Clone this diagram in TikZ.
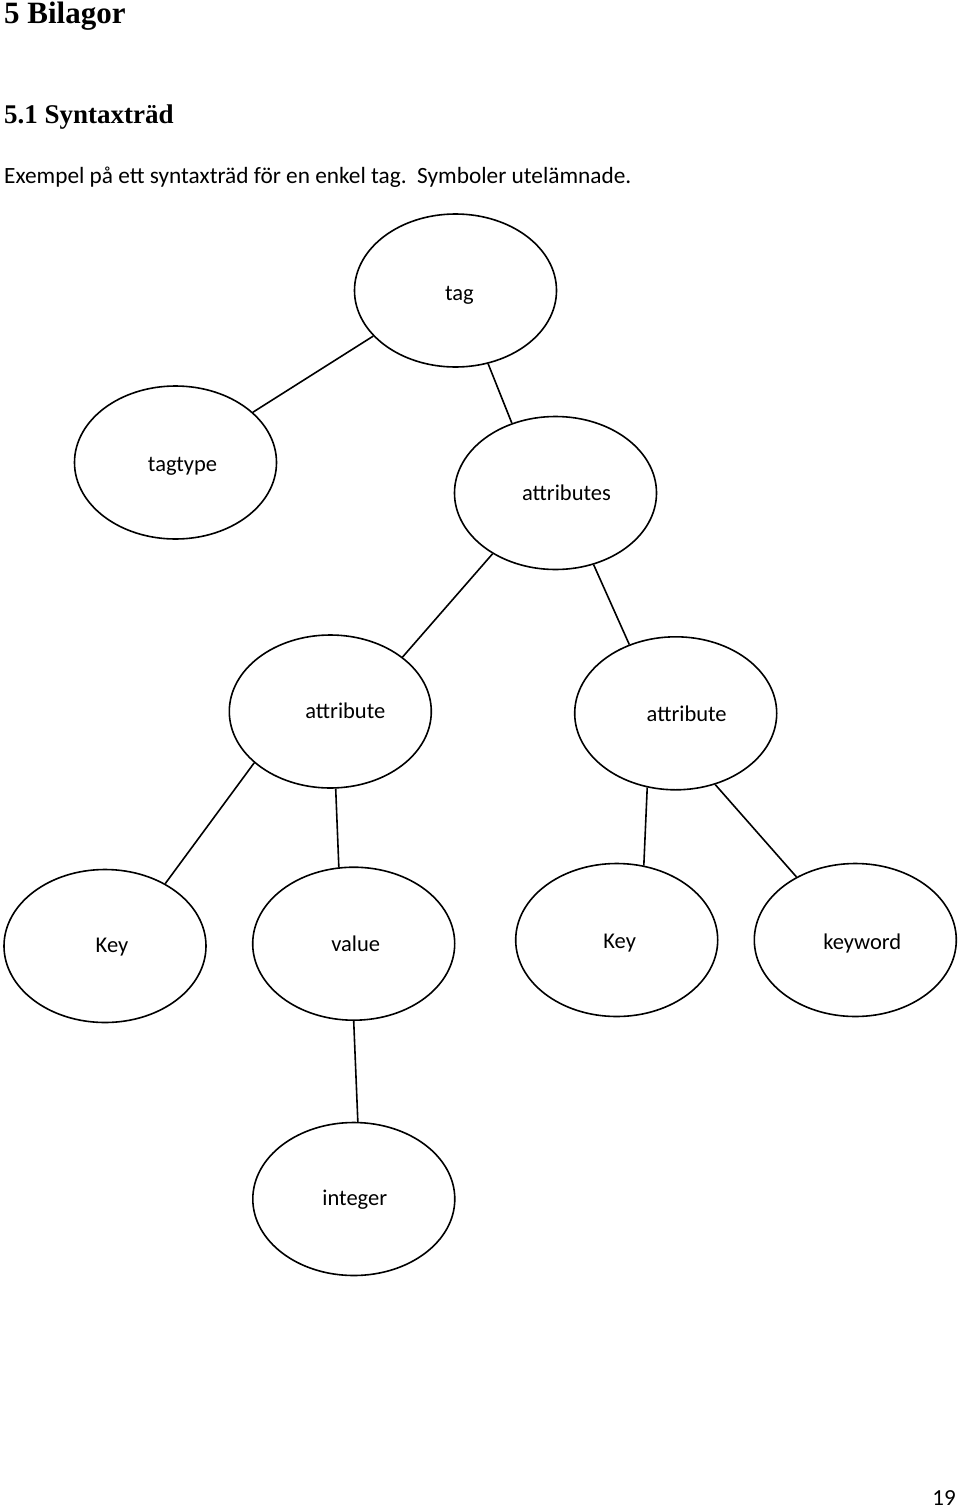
\documentclass[tikz,border=0pt]{standalone}
\usepackage{fontspec}
\setmainfont{Carlito}
\newfontfamily\headfont{Liberation Serif}
\usetikzlibrary{shapes.geometric}
\tikzset{oval/.style={draw=black,ellipse,line width=1.6pt,minimum width=202pt,minimum height=153pt,inner sep=0pt},word/.style={font=\fontsize{22.5}{27}\selectfont,inner sep=0pt,anchor=base},link/.style={line width=1.6pt},txt/.style={inner sep=0pt,anchor=base west}}

\begin{document}
\begin{tikzpicture}[x=1pt,y=-1pt]
\useasboundingbox (0,0) rectangle (960,1509);
\node[txt,font=\headfont\bfseries\fontsize{31}{36}\selectfont] (hd) at (4,24) {5 Bilagor};
\node[txt,font=\headfont\bfseries\fontsize{27}{32}\selectfont] (sub) at (4,124) {5.1 Syntaxträd};
\node[txt,font=\fontsize{23.3}{28}\selectfont] (intro) at (4,183) {Exempel på ett syntaxträd för en enkel tag.\ \ Symboler utelämnade.};
\node[oval,label={[word,xshift=4pt,yshift=-5pt]center:tag}] (tag) at (455.5,290.5) {};
\node[oval,label={[word,xshift=7pt,yshift=-4pt]center:tagtype}] (tagtype) at (175.5,462.5) {};
\node[oval,label={[word,xshift=11pt,yshift=0pt]center:attributes}] (attrs) at (555.5,493) {};
\node[oval,label={[word,xshift=15pt,yshift=1pt]center:attribute}] (attrA) at (330.3,711.5) {};
\node[oval,label={[word,xshift=11pt,yshift=0pt]center:attribute}] (attrB) at (675.7,713.3) {};
\node[oval,label={[word,xshift=7pt,yshift=-1pt]center:Key}] (keyA) at (105,946) {};
\node[oval,label={[word,xshift=2pt,yshift=0pt]center:value}] (val) at (353.7,943.7) {};
\node[oval,label={[word,xshift=3pt,yshift=-3pt]center:Key}] (keyB) at (616.7,940) {};
\node[oval,label={[word,xshift=7pt,yshift=-3pt]center:keyword}] (kw) at (855.3,940) {};
\node[oval,label={[word,xshift=1pt,yshift=-1pt]center:integer}] (int) at (353.8,1199) {};
\draw[link] (tag.209.9) -- (tagtype.33.3);
\draw[link] (tag.294.7) -- (attrs.122.6);
\draw[link] (attrs.224.2) -- (attrA.37.1);
\draw[link] (attrs.298.7) -- (attrB.124.8);
\draw[link] (attrA.214.9) -- (keyA.46.2);
\draw[link] (attrA.274.2) -- (val.101.5);
\draw[link] (attrB.249.9) -- (keyB.70.5);
\draw[link] (attrB.299.3) -- (kw.133.6);
\draw[link] (val.270.4) -- (int.87.1);
\node[inner sep=0pt,anchor=base east,font=\fontsize{23}{28}\selectfont] (pageno) at (956,1505) {19};
\end{tikzpicture}
\end{document}
